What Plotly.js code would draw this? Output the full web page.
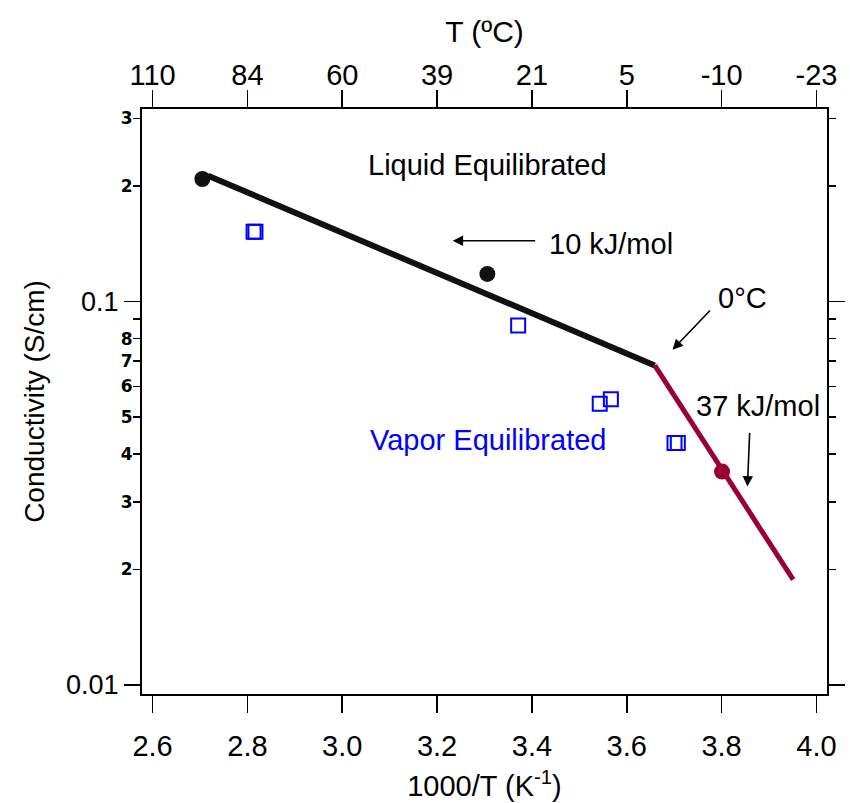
<!DOCTYPE html>
<html>
<head>
<meta charset="utf-8">
<script src="https://cdn.plot.ly/plotly-3.0.1.min.js"></script>
<style>html,body{margin:0;padding:0;background:#fff;}#chart{width:850px;height:803px;}</style>
</head>
<body>
<div id="chart"></div>
<script>
// ---- data ----
var liquidX = [2.705, 3.306];
var liquidY = [0.2086, 0.118];
var vaporX = [2.813, 2.817, 3.371, 3.543, 3.5665, 3.7007, 3.7077];
var vaporY = [0.152, 0.152, 0.0866, 0.0541, 0.0556, 0.0427, 0.0427];
var coldX = [3.801];
var coldY = [0.036];
var fitHighX = [2.717, 3.659];
var fitHighY = [0.2128, 0.0681];
var fitLowX = [3.659, 3.951];
var fitLowY = [0.0681, 0.0188];

var bottomTicks = [2.6, 2.8, 3.0, 3.2, 3.4, 3.6, 3.8, 4.0];
var bottomLabels = ['2.6', '2.8', '3.0', '3.2', '3.4', '3.6', '3.8', '4.0'];
var topLabels = ['110', '84', '60', '39', '21', '5', '-10', '-23'];
var yMajorTicks = [0.01, 0.1];
var yMajorLabels = ['0.01', '0.1'];
var yMinorTicks = [0.02, 0.03, 0.04, 0.05, 0.06, 0.07, 0.08, 0.2, 0.3];
var yMinorLabels = ['2', '3', '4', '5', '6', '7', '8', '2', '3'];
var yUnlabelledTicks = [0.09];

var FONT = 'Liberation Sans, Arial, Helvetica, sans-serif';
var xRange = [2.5777, 4.0223];
var yRange = [-2.024, -0.498];

var traces = [
  {x: fitHighX, y: fitHighY, mode: 'lines', line: {color: '#111111', width: 6}, hoverinfo: 'skip', showlegend: false},
  {x: fitLowX, y: fitLowY, mode: 'lines', line: {color: '#990033', width: 5}, hoverinfo: 'skip', showlegend: false},
  {x: liquidX, y: liquidY, mode: 'markers', marker: {color: '#111111', size: 16, symbol: 'circle'}, showlegend: false},
  {x: coldX, y: coldY, mode: 'markers', marker: {color: '#990033', size: 16, symbol: 'circle'}, showlegend: false},
  {x: vaporX, y: vaporY, mode: 'markers', marker: {color: '#0000ff', size: 14, symbol: 'square-open', line: {color: '#0000ff', width: 2}}, showlegend: false},
  // invisible helper trace so that the overlay axes are drawn
  {x: fitHighX, y: fitHighY, xaxis: 'x2', yaxis: 'y3', mode: 'lines', opacity: 0, hoverinfo: 'skip', showlegend: false}
];

var arrowStyle = {showarrow: true, arrowhead: 2, arrowsize: 1.3, arrowwidth: 1.6, arrowcolor: '#000', text: '', xref: 'x', yref: 'y', axref: 'x', ayref: 'y'};
function arrow(hx, hy, tx, ty) {
  return Object.assign({}, arrowStyle, {x: hx, y: hy, ax: tx, ay: ty});
}
function label(txt, x, y, color) {
  return {text: txt, x: x, y: y, xref: 'x', yref: 'y', showarrow: false, xanchor: 'center', yanchor: 'middle',
          font: {family: FONT, size: 29, color: color || '#000'}};
}

var layout = {
  width: 850, height: 803,
  margin: {l: 142, r: 23, t: 109, b: 109, pad: 0},
  paper_bgcolor: '#fff', plot_bgcolor: '#fff',
  font: {family: FONT, color: '#000'},
  showlegend: false,
  xaxis: {
    range: xRange, type: 'linear', tickmode: 'array', tickvals: bottomTicks, ticktext: bottomLabels,
    ticks: 'outside', ticklen: 17, tickwidth: 1.6, tickcolor: '#000',
    showline: true, linewidth: 2, linecolor: '#000', mirror: true, showgrid: false, zeroline: false,
    tickfont: {family: FONT, size: 29}, ticklabelstandoff: 8,
    title: {text: '1000/T (K<sup>-1</sup>)', font: {family: FONT, size: 29}, standoff: 15}
  },
  xaxis2: {
    range: xRange, type: 'linear', overlaying: 'x', side: 'top', anchor: 'y', tickmode: 'array',
    tickvals: bottomTicks, ticktext: topLabels,
    ticks: 'outside', ticklen: 17, tickwidth: 1.6, tickcolor: '#000',
    showline: true, linewidth: 2, linecolor: '#000', showgrid: false, zeroline: false,
    tickfont: {family: FONT, size: 29}, ticklabelstandoff: -7,
    title: {text: 'T (ºC)', font: {family: FONT, size: 30}, standoff: 8}
  },
  yaxis: {
    type: 'log', range: yRange, tickmode: 'array', tickvals: yMajorTicks, ticktext: yMajorLabels,
    ticks: 'outside', ticklen: 16, tickwidth: 1.6, tickcolor: '#000',
    showline: true, linewidth: 2, linecolor: '#000', mirror: 'ticks', showgrid: false, zeroline: false,
    tickfont: {family: FONT, size: 27},
    title: {text: 'Conductivity (S/cm)', font: {family: FONT, size: 28}, standoff: 13}
  },
  yaxis3: {
    type: 'log', range: yRange, overlaying: 'y', side: 'left', anchor: 'x', tickmode: 'array',
    tickvals: yMinorTicks, ticktext: yMinorLabels,
    ticks: 'outside', ticklen: 8, tickwidth: 1.6, tickcolor: '#000',
    minor: {tickmode: 'array', tickvals: yUnlabelledTicks, ticks: 'outside', ticklen: 8, tickwidth: 1.6, tickcolor: '#000'},
    ticklabelstandoff: -3,
    showline: false, mirror: 'ticks', showgrid: false, zeroline: false,
    tickfont: {family: 'DejaVu Sans, sans-serif', size: 17, weight: 700}
  },
  annotations: [
    label('Liquid Equilibrated', 3.3063, -0.6434),
    label('10 kJ/mol', 3.5665, -0.8495),
    label('0°C', 3.8446, -0.99),
    label('37 kJ/mol', 3.8773, -1.272),
    label('Vapor Equilibrated', 3.3084, -1.361, '#0000ff'),
    arrow(3.233, -0.8416, 3.410, -0.8416),
    arrow(3.6965, -1.126, 3.7787, -1.0198),
    arrow(3.8545, -1.4827, 3.8593, -1.339)
  ]
};

Plotly.newPlot('chart', traces, layout, {displayModeBar: false, staticPlot: true});
</script>
</body>
</html>
